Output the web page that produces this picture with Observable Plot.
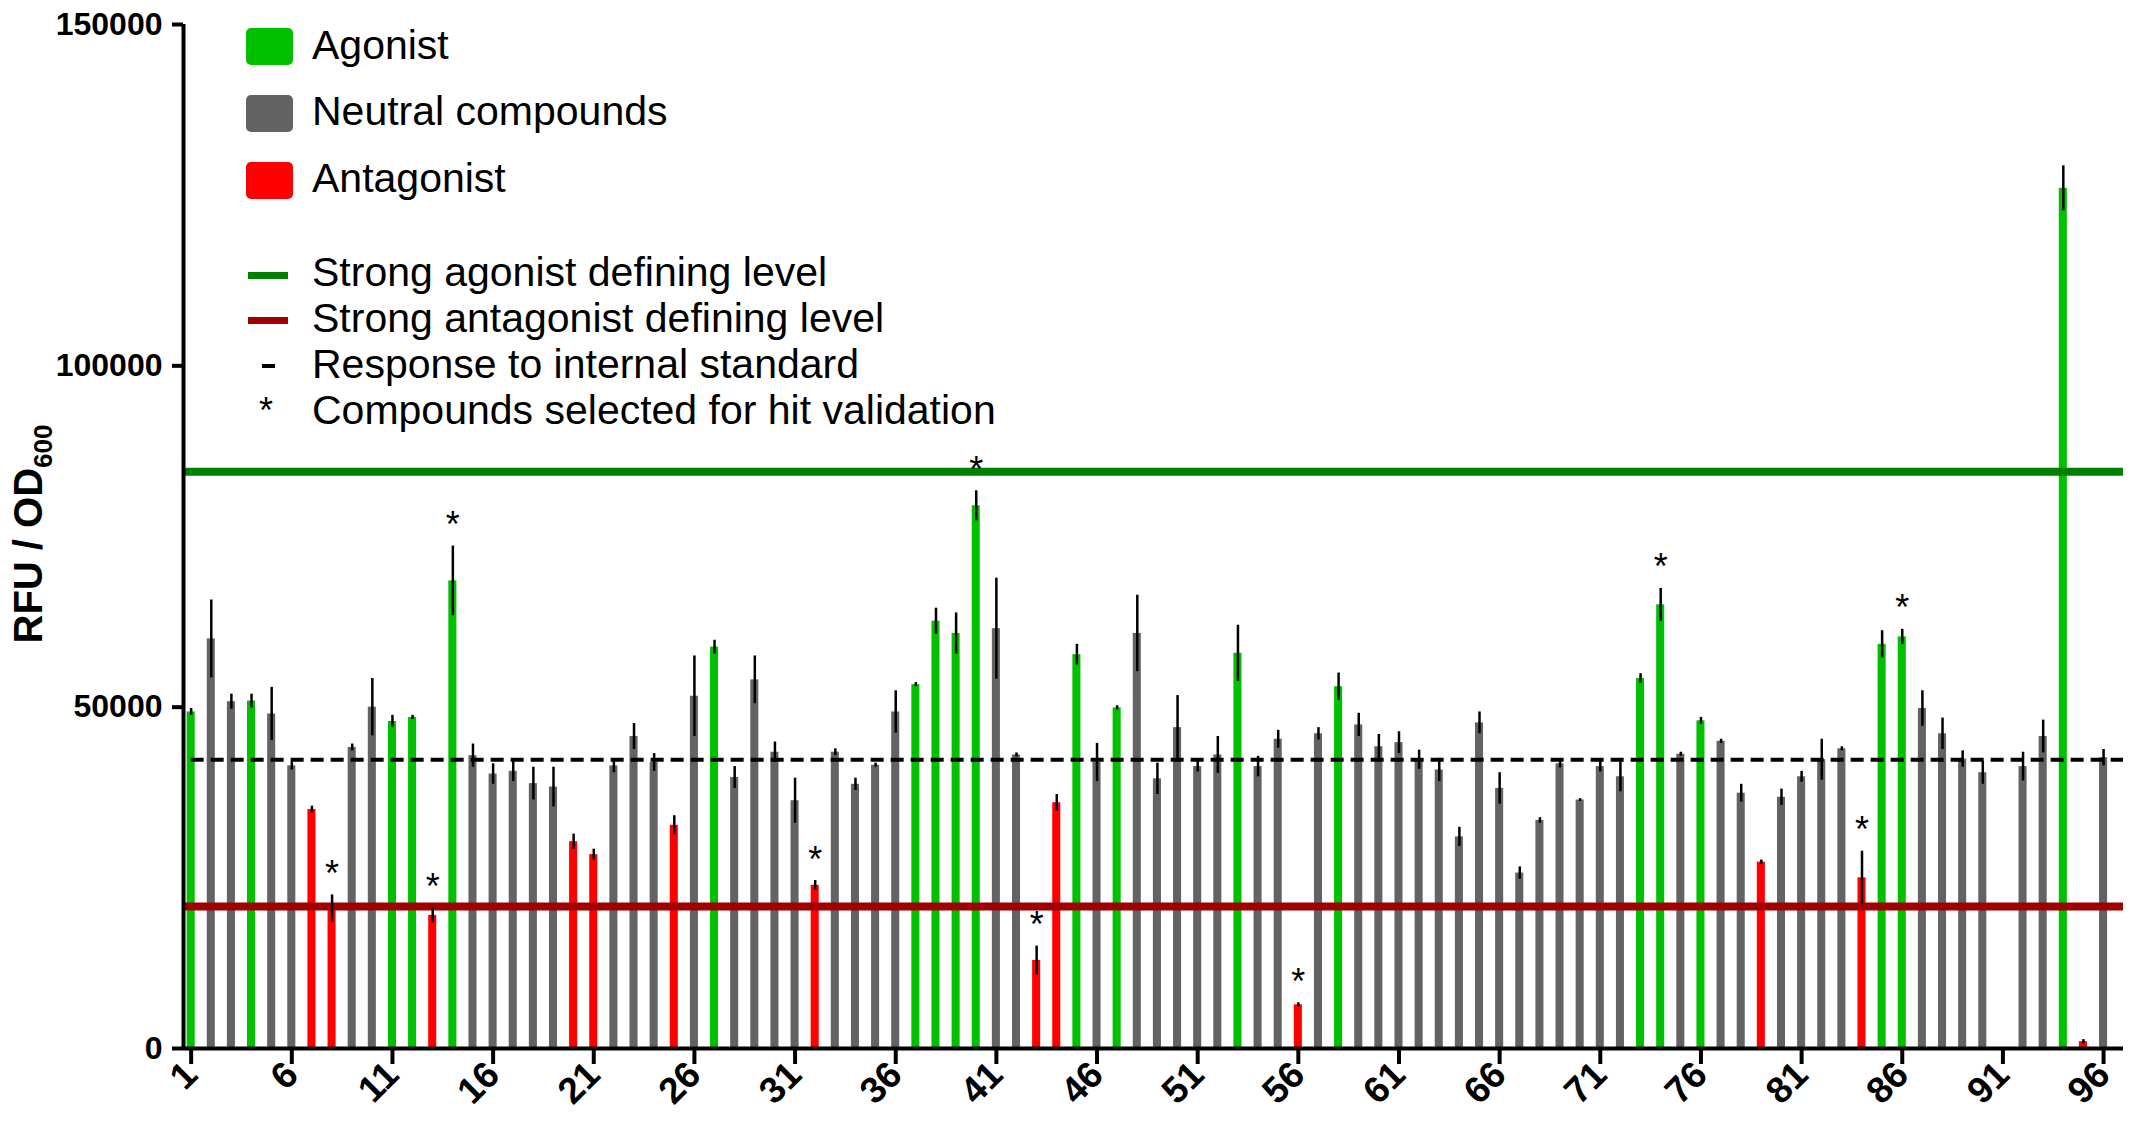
<!DOCTYPE html>
<html>
<head>
<meta charset="utf-8">
<script src="https://cdn.jsdelivr.net/npm/d3@7"></script>
<script src="https://cdn.jsdelivr.net/npm/@observablehq/plot@0.6"></script>
<style>
html, body { margin: 0; padding: 0; background: #fff; }
#wrap { position: relative; width: 2146px; height: 1126px; font-family: "Liberation Sans", Arial, sans-serif; }
#wrap svg { display: block; }
.sw { position: absolute; }
.lt { position: absolute; left: 312px; font-size: 41px; line-height: 41px; white-space: nowrap; color: #000; }
</style>
</head>
<body>
<div id="wrap"></div>
<script>
// ---- data ----
const compounds = [1,2,3,4,5,6,7,8,9,10,11,12,13,14,15,16,17,18,19,20,21,22,23,24,25,26,27,28,29,30,31,32,33,34,35,36,37,38,39,40,41,42,43,44,45,46,47,48,49,50,51,52,53,54,55,56,57,58,59,60,61,62,63,64,65,66,67,68,69,70,71,72,73,74,75,76,77,78,79,80,81,82,83,84,85,86,87,88,89,90,91,92,93,94,95,96];
const values = [
  49300, 60000, 50800, 50900, 49000, 41400, 35000, 20500, 44100, 50000,
  47900, 48500, 19500, 68500, 42900, 40200, 40600, 38800, 38300, 30300,
  28400, 41400, 45700, 41900, 32700, 51600, 58800, 39700, 54000, 43400,
  36300, 23900, 43400, 38700, 41500, 49300, 53300, 62600, 60800, 79500,
  61500, 43000, 12900, 36000, 57700, 41900, 49900, 60800, 39500, 47000,
  41300, 43000, 57900, 41300, 45300, 6400, 46100, 53000, 47400, 44200,
  44800, 42300, 40800, 31000, 47700, 38100, 25700, 33400, 41700, 36400,
  41300, 39800, 54200, 65000, 43100, 48000, 45000, 37400, 27300, 36800,
  39800, 42300, 43900, 25000, 59200, 60300, 49800, 46100, 42400, 40400,
  null, 41300, 45700, 126000, 1000, 42600
];
const errors = [
  500, 5700, 1100, 1000, 3900, 600, 500, 2000, 500, 4200,
  900, 300, 1100, 5100, 1700, 1500, 1500, 2400, 2900, 1100,
  800, 1000, 1900, 1300, 1400, 5900, 1000, 1600, 3500, 1500,
  3300, 700, 500, 900, 300, 3100, 300, 1900, 3000, 2200,
  7400, 300, 2100, 1200, 1500, 2800, 300, 5600, 2300, 4700,
  800, 2700, 4100, 1500, 1300, 300, 900, 2000, 1700, 1800,
  1600, 1400, 1700, 1400, 1600, 2300, 900, 400, 600, 200,
  800, 2200, 700, 2400, 300, 500, 300, 1300, 300, 1200,
  800, 3000, 300, 3900, 2000, 1100, 2600, 2300, 1200, 1700,
  null, 2100, 2400, 3300, 300, 1200
];
// A = agonist, N = neutral compound, X = antagonist
const classCodes = [
  "A","N","N","A","N","N","X","X","N","N",
  "A","A","X","A","N","N","N","N","N","X",
  "X","N","N","N","X","N","A","N","N","N",
  "N","X","N","N","N","N","A","A","A","A",
  "N","N","X","X","A","N","A","N","N","N",
  "N","N","A","N","N","X","N","A","N","N",
  "N","N","N","N","N","N","N","N","N","N",
  "N","N","A","A","N","A","N","N","X","N",
  "N","N","N","X","A","A","N","N","N","N",
  "N","N","N","A","X","N"
];
const classNames = { A: "Agonist", N: "Neutral compounds", X: "Antagonist" };
const selectedForValidation = [8, 13, 14, 32, 40, 43, 56, 74, 84, 86];
const standardLevel = 42300;        // response to internal standard
const strongAgonistLevel = 84500;   // strong agonist defining level
const strongAntagonistLevel = 20800;// strong antagonist defining level
const yTicks = [0, 50000, 100000, 150000];
const xTicks = [1, 6, 11, 16, 21, 26, 31, 36, 41, 46, 51, 56, 61, 66, 71, 76, 81, 86, 91, 96];

// ---- styling ----
const colours = { "Agonist": "#00c000", "Neutral compounds": "#636363", "Antagonist": "#ff0000" };
const agonistLineColour = "#008000";
const antagonistLineColour = "#a00000";
const halfBar = 0.2;
const xDomain = [0.62, 96.99];

const rows = compounds.map((id, i) => ({
  id, value: values[i], err: errors[i], cls: classNames[classCodes[i]]
})).filter(d => d.value != null);
const starred = rows.filter(d => selectedForValidation.includes(d.id));

const chart = Plot.plot({
  width: 2146,
  height: 1126,
  marginLeft: 183,
  marginRight: 23,
  marginTop: 24,
  marginBottom: 78,
  style: { fontFamily: '"Liberation Sans", Arial, sans-serif', background: "white", color: "black", overflow: "visible" },
  x: { type: "linear", domain: xDomain },
  y: { domain: [0, 150000] },
  color: { type: "ordinal", domain: Object.keys(colours), range: Object.values(colours) },
  marks: [
    Plot.rectY(rows, { x1: d => d.id - halfBar, x2: d => d.id + halfBar, y: "value", fill: "cls" }),
    Plot.ruleY([standardLevel], { x1: compounds[0], x2: xDomain[1], stroke: "black", strokeWidth: 4, strokeDasharray: "13,7" }),
    Plot.ruleY([strongAgonistLevel], { stroke: agonistLineColour, strokeWidth: 8 }),
    Plot.ruleY([strongAntagonistLevel], { stroke: antagonistLineColour, strokeWidth: 8 }),
    Plot.ruleX(rows, { x: "id", y1: d => d.value - d.err, y2: d => d.value + d.err, stroke: "black", strokeWidth: 2.5 }),
    Plot.text(starred, { x: "id", y: d => d.value + d.err, text: () => "*", lineAnchor: "bottom", dy: -9, fontSize: 36, fill: "black" }),
    Plot.ruleY([0], { stroke: "black", strokeWidth: 4 }),
    Plot.ruleX([xDomain[0]], { y1: yTicks[0], y2: yTicks[yTicks.length - 1], stroke: "black", strokeWidth: 4 }),
    Plot.axisY({ ticks: yTicks, tickFormat: d3.format("d"), tickSize: 11, tickPadding: 10, fontSize: 32, fontWeight: "bold", strokeWidth: 4, label: null }),
    Plot.axisX({ ticks: xTicks, tickFormat: d => String(d), tickSize: 16, tickPadding: 4, tickRotate: -45, fontSize: 37, fontWeight: "bold", strokeWidth: 4, label: null })
  ]
});

// y-axis title with subscript
const svg = d3.select(chart);
const ylab = svg.append("text")
  .attr("transform", "translate(42,534) rotate(-90)")
  .attr("text-anchor", "middle")
  .attr("font-family", '"Liberation Sans", Arial, sans-serif')
  .attr("font-weight", "bold")
  .attr("font-size", 40)
  .attr("fill", "black");
ylab.append("tspan").text("RFU / OD");
ylab.append("tspan").attr("font-size", 26).attr("dy", 10).text("600");

const wrap = document.getElementById("wrap");
wrap.appendChild(chart);

// ---- legend (HTML overlay) ----
const legendItems = [
  { kind: "box", colour: colours["Agonist"], label: "Agonist", boxTop: 28, textTop: 25 },
  { kind: "box", colour: colours["Neutral compounds"], label: "Neutral compounds", boxTop: 95, textTop: 91 },
  { kind: "box", colour: colours["Antagonist"], label: "Antagonist", boxTop: 162, textTop: 158 },
  { kind: "line", colour: agonistLineColour, label: "Strong agonist defining level", boxTop: 272, textTop: 252 },
  { kind: "line", colour: antagonistLineColour, label: "Strong antagonist defining level", boxTop: 317, textTop: 298 },
  { kind: "dash", colour: "#000", label: "Response to internal standard", boxTop: 364, textTop: 344 },
  { kind: "star", colour: "#000", label: "Compounds selected for hit validation", boxTop: 393, textTop: 390 }
];
for (const it of legendItems) {
  const sw = document.createElement("div");
  sw.className = "sw";
  if (it.kind === "box") {
    Object.assign(sw.style, { left: "246px", top: it.boxTop + "px", width: "47px", height: "37px", borderRadius: "5px", background: it.colour });
  } else if (it.kind === "line") {
    Object.assign(sw.style, { left: "248px", top: it.boxTop + "px", width: "40px", height: "7px", background: it.colour });
  } else if (it.kind === "dash") {
    Object.assign(sw.style, { left: "262px", top: it.boxTop + "px", width: "13px", height: "4px", background: it.colour });
  } else {
    sw.textContent = "*";
    Object.assign(sw.style, { left: "259px", top: it.boxTop + "px", fontSize: "36px", lineHeight: "36px", color: it.colour });
  }
  wrap.appendChild(sw);
  const t = document.createElement("div");
  t.className = "lt";
  t.style.top = it.textTop + "px";
  t.textContent = it.label;
  wrap.appendChild(t);
}
</script>
</body>
</html>
